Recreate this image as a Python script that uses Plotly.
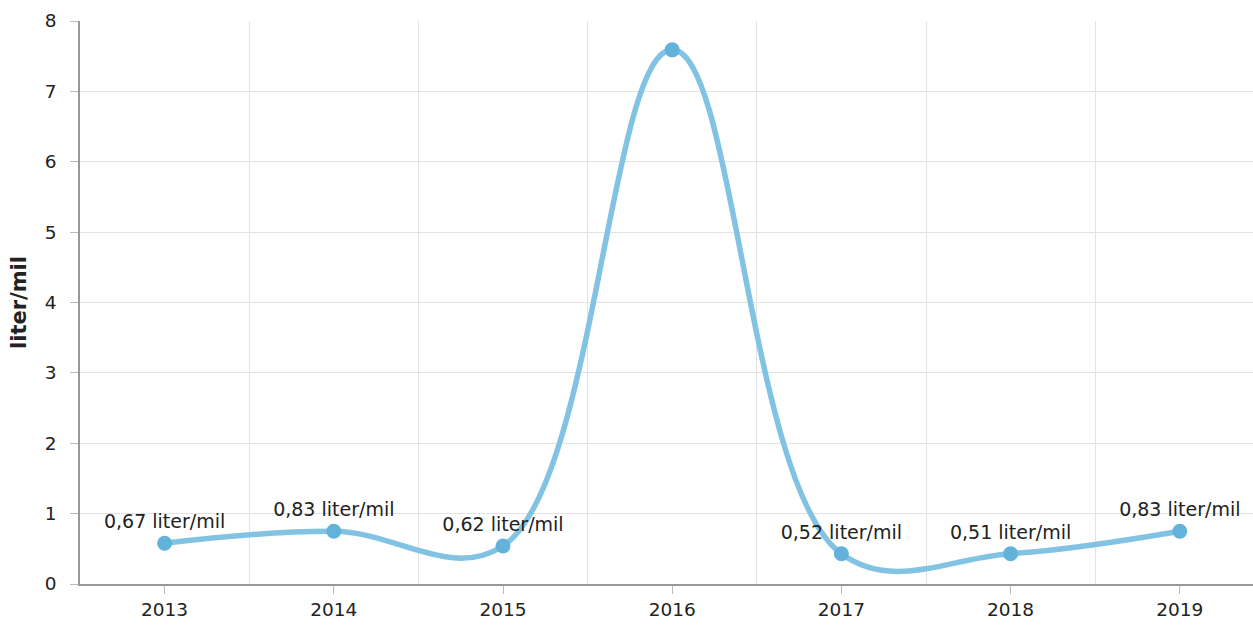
import plotly.graph_objects as go

years = ["2013", "2014", "2015", "2016", "2017", "2018", "2019"]
values = [0.58, 0.75, 0.54, 7.59, 0.43, 0.43, 0.75]
labels = ["0,67 liter/mil", "0,83 liter/mil", "0,62 liter/mil", "",
          "0,52 liter/mil", "0,51 liter/mil", "0,83 liter/mil"]
y_ticks = [0, 1, 2, 3, 4, 5, 6, 7, 8]

xpos = list(range(len(years)))

fig = go.Figure()
fig.add_trace(go.Scatter(
    x=xpos, y=values, mode="lines+markers+text",
    text=labels, textposition="top center",
    textfont=dict(family="DejaVu Sans", size=19, color="#222"),
    line=dict(color="#82c3e3", width=5.5, shape="spline", smoothing=1.1),
    marker=dict(color="#62b2dc", size=15),
    cliponaxis=False, showlegend=False,
))

fig.update_layout(
    width=1253, height=628,
    margin=dict(l=80, r=0, t=21, b=44),
    paper_bgcolor="white", plot_bgcolor="white",
    font=dict(family="DejaVu Sans", size=18, color="#222"),
)
fig.update_xaxes(
    range=[-0.5, -0.5 + (1253 - 80) / 169.2],
    tickvals=xpos, ticktext=years,
    showgrid=False, zeroline=False, automargin=False,
    showline=True, linecolor="#999", linewidth=1.5,
    ticks="outside", ticklen=8, tickcolor="#bbb",
    minor=dict(tickvals=[i + 0.5 for i in xpos[:-1]], showgrid=True,
               gridcolor="#e3e3e3", gridwidth=1, ticks=""),
    tickfont=dict(size=18.5),
)
fig.update_yaxes(
    range=[0, 8], tickvals=y_ticks,
    showgrid=True, gridcolor="#e3e3e3", gridwidth=1, zeroline=False,
    showline=True, linecolor="#999", linewidth=1.5, automargin=False,
    ticks="outside", ticklen=8, tickcolor="#bbb", ticklabelstandoff=10,
    title=dict(text="<b>liter/mil</b>", font=dict(size=21), standoff=12),
    tickfont=dict(size=18.5),
)

fig.write_html("out.html", config={"displayModeBar": False},
               post_script="document.body.style.margin='0';")
